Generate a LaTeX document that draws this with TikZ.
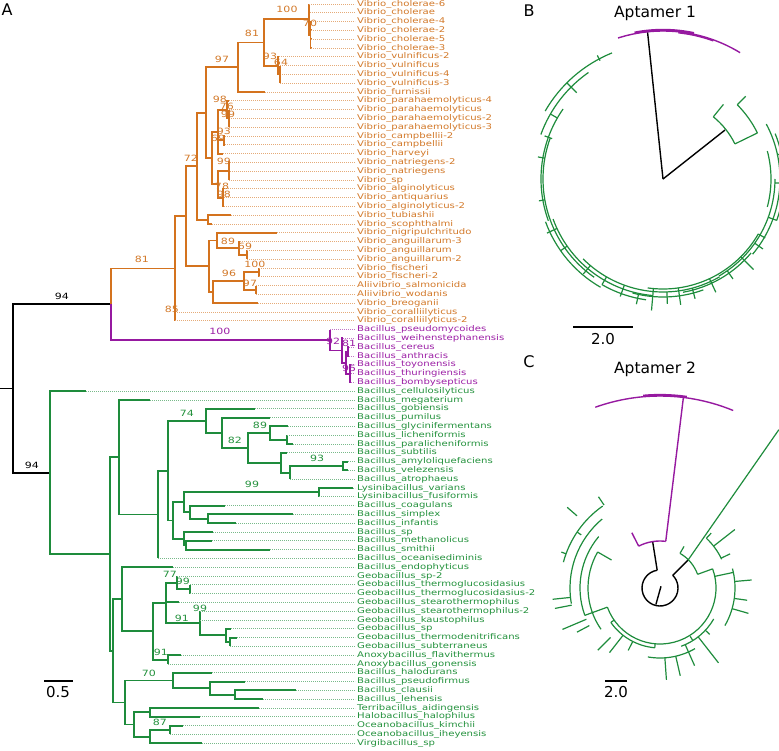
\documentclass[tikz,border=0pt]{standalone}
\usepackage{fontspec}
\setmainfont{DejaVu Sans}
\newfontfamily\leaffont[FakeStretch=1.28]{DejaVu Sans}
\usepackage{tikz}

\definecolor{vibC}{RGB}{212,115,30}
\definecolor{vibT}{RGB}{210,120,40}
\definecolor{purC}{RGB}{150,25,160}
\definecolor{purT}{RGB}{155,30,165}
\definecolor{grnC}{RGB}{30,140,60}
\definecolor{grnT}{RGB}{35,145,60}

\tikzset{
  branch/.style={line width=1.9pt},
  vibL/.style={branch, draw=vibC},
  purL/.style={branch, draw=purC},
  grnL/.style={branch, draw=grnC},
  blkL/.style={branch, draw=black},
  leader/.style={line width=0.8pt, dash pattern=on 0.8pt off 1.2pt},
  leafname/.style={anchor=west, inner sep=2pt, font=\leaffont\fontsize{7.9}{8}\selectfont,
    text height=5.7pt, text depth=1.6pt},
  boot/.style={inner sep=0pt, font=\leaffont\fontsize{8.6}{9}\selectfont},
  panel/.style={inner sep=0pt, font=\fontsize{16}{18}\selectfont},
  title/.style={inner sep=0pt, font=\fontsize{15.5}{18}\selectfont},
  barlabel/.style={inner sep=0pt, font=\fontsize{15}{17}\selectfont},
  scalebar/.style={line width=2.2pt},
  ring/.style={line width=1.2pt, draw=grnC},
  ringP/.style={line width=1.4pt, draw=purC},
  ringK/.style={line width=1.4pt, draw=black}
}

\begin{document}
\begin{tikzpicture}[x=1pt,y=-1pt]
\useasboundingbox (0,0) rectangle (779,751);

% panel letters and titles
\node[panel] (labA) at (7,10) {A};
\node[panel] (labB) at (529,11) {B};
\node[panel] (labC) at (529,362) {C};
\node[title] (tit1) at (655,13) {Aptamer 1};
\node[title] (tit2) at (655,369) {Aptamer 2};

% ---------------- panel A: rectangular tree ----------------
% root and clade nodes
\coordinate (R0) at (0,388.5);
\coordinate (R) at (13,388.5);
\coordinate (V0) at (111,304.3);
\coordinate (V1) at (175,268.5);
\coordinate (V2) at (186,216.2);
\coordinate (V3) at (209,266.4);
\coordinate (V4) at (197,166.1);
\coordinate (V5) at (206,112.6);
\coordinate (V6) at (238,67.3);
\coordinate (V7) at (264,42.5);
\coordinate (cho) at (309,19.4);
\coordinate (cho2) at (310.5,34.8);
\coordinate (vul) at (278,65.6);
\coordinate (vul2) at (280,74.4);
\coordinate (P) at (212,158);
\coordinate (P1) at (218,131.6);
\coordinate (P1a) at (227,109.6);
\coordinate (P1aa) at (229,118.4);
\coordinate (P1b) at (224,140.4);
\coordinate (P2) at (218,184.4);
\coordinate (P2a) at (229,171.2);
\coordinate (P2b) at (223,197.6);
\coordinate (tub) at (208,219.6);
\coordinate (N89) at (217,240.5);
\coordinate (ang) at (239,248.2);
\coordinate (ang2) at (247,254.8);
\coordinate (N96p) at (213,292.2);
\coordinate (N96) at (244,281.2);
\coordinate (fis) at (259,272.4);
\coordinate (ali) at (256,290);
\coordinate (B) at (330,340);
\coordinate (B2) at (342,350.5);
\coordinate (B3) at (346,362.6);
\coordinate (B4) at (348,351.6);
\coordinate (B5) at (350,373.6);
\coordinate (G0) at (50,472.6);
\coordinate (G1) at (110,554.1);
\coordinate (G2) at (119,457.3);
\coordinate (G3) at (158,514.5);
\coordinate (G4) at (168,470.6);
\coordinate (G23) at (206,420.8);
\coordinate (G25) at (222,432.8);
\coordinate (G26) at (248,447.9);
\coordinate (G27) at (270,433);
\coordinate (G28) at (281,462.7);
\coordinate (G29) at (287,439.6);
\coordinate (G30) at (290,472.6);
\coordinate (G31) at (343,466);
\coordinate (G24) at (173,520.5);
\coordinate (G32) at (319,492.4);
\coordinate (G33) at (184,502.3);
\coordinate (G34) at (190,512.2);
\coordinate (G35) at (208,518.8);
\coordinate (G36) at (184,538.6);
\coordinate (G37) at (186,545.2);
\coordinate (G6) at (113,650.9);
\coordinate (G5) at (122,599.3);
\coordinate (G8) at (153,631.3);
\coordinate (G9) at (166,603);
\coordinate (G10) at (177,582.6);
\coordinate (G12) at (190,589.2);
\coordinate (G11) at (200,623.3);
\coordinate (G13) at (226,635.4);
\coordinate (G14) at (230,642);
\coordinate (G15) at (168,659.6);
\coordinate (G7) at (125,702.5);
\coordinate (G16) at (173,680.5);
\coordinate (G18) at (210,688.2);
\coordinate (G19) at (235,694.8);
\coordinate (G17) at (134,724.5);
\coordinate (G20) at (150,712.4);
\coordinate (G21) at (150,736.6);
\coordinate (G22) at (170,730);

% backbone
\draw[blkL] (R0) -- (R);
\draw[blkL] (R) |- (V0);
\draw[blkL] (R) |- (G0);
\foreach \a/\b in {V0/V1, V1/V2, V2/V4, V2/V3, V4/V5, V4/tub, V5/V6, V5/P, V6/V7,
    V7/cho, V7/vul, cho/cho2, vul/vul2, P/P1, P/P2, P1/P1a, P1/P1b, P1a/P1aa,
    P2/P2a, P2/P2b, V3/N89, V3/N96p, N89/ang, ang/ang2, N96p/N96, N96/fis, N96/ali}
  \draw[vibL] (\a) |- (\b);
\foreach \a/\b in {V0/B, B/B2, B2/B3, B3/B4, B3/B5}
  \draw[purL] (\a) |- (\b);
\foreach \a/\b in {G0/G1, G1/G2, G1/G6, G2/G3, G3/G4, G4/G23, G4/G24, G23/G25,
    G25/G26, G26/G27, G26/G28, G27/G29, G28/G30, G30/G31, G24/G33, G24/G36,
    G33/G32, G33/G34, G34/G35, G36/G37, G6/G5, G6/G7, G5/G8, G8/G9, G8/G15,
    G9/G10, G9/G11, G10/G12, G11/G13, G13/G14, G7/G16, G7/G17, G16/G18,
    G18/G19, G17/G20, G17/G21, G21/G22}
  \draw[grnL] (\a) |- (\b);

% leaves: number/parent/tip/name
\foreach \i/\p/\t/\n in {1/cho/309/Vibrio\_cholerae-6, 2/cho/310/Vibrio\_cholerae,
    3/cho2/311/Vibrio\_cholerae-4, 4/cho2/311/Vibrio\_cholerae-2,
    5/cho2/311/Vibrio\_cholerae-5, 6/cho2/311/Vibrio\_cholerae-3,
    7/vul/279/Vibrio\_vulnificus-2, 8/vul2/280/Vibrio\_vulnificus,
    9/vul2/280/Vibrio\_vulnificus-4, 10/vul2/280/Vibrio\_vulnificus-3,
    11/V6/265/Vibrio\_furnissii, 12/P1a/229/Vibrio\_parahaemolyticus-4,
    13/P1aa/229/Vibrio\_parahaemolyticus, 14/P1aa/229/Vibrio\_parahaemolyticus-2,
    15/P1aa/229/Vibrio\_parahaemolyticus-3, 16/P1b/225/Vibrio\_campbellii-2,
    17/P1b/225/Vibrio\_campbellii, 18/P1/223/Vibrio\_harveyi,
    19/P2a/230/Vibrio\_natriegens-2, 20/P2a/230/Vibrio\_natriegens,
    21/P2a/229/Vibrio\_sp, 22/P2b/224/Vibrio\_alginolyticus,
    23/P2b/224/Vibrio\_antiquarius, 24/P2b/224/Vibrio\_alginolyticus-2,
    25/tub/231/Vibrio\_tubiashii, 26/tub/212/Vibrio\_scophthalmi,
    27/N89/277/Vibrio\_nigripulchritudo, 28/ang/240/Vibrio\_anguillarum-3,
    29/ang2/247/Vibrio\_anguillarum, 30/ang2/247/Vibrio\_anguillarum-2,
    31/fis/259/Vibrio\_fischeri, 32/fis/259/Vibrio\_fischeri-2,
    33/ali/256/Aliivibrio\_salmonicida, 34/ali/256/Aliivibrio\_wodanis,
    35/N96p/258/Vibrio\_breoganii, 36/V1/175/Vibrio\_coralliilyticus,
    37/V1/175/Vibrio\_coralliilyticus-2}{
  \coordinate (L\i) at (\t,{4+(\i-1)*8.8});
  \draw[vibL] (\p) |- (L\i);
  \node[leafname, text=vibT] (n\i) at (355,{4+(\i-1)*8.8}) {\n};
  \draw[leader, vibC!60] (L\i) -- (n\i.west);
}
\foreach \i/\p/\t/\n in {38/B/330/Bacillus\_pseudomycoides,
    39/B2/343/Bacillus\_weihenstephanensis, 40/B4/349/Bacillus\_cereus,
    41/B4/349/Bacillus\_anthracis, 42/B5/351/Bacillus\_toyonensis,
    43/B5/351/Bacillus\_thuringiensis, 44/B5/351/Bacillus\_bombysepticus}{
  \coordinate (L\i) at (\t,{4+(\i-1)*8.8});
  \draw[purL] (\p) |- (L\i);
  \node[leafname, text=purT] (n\i) at (355,{4+(\i-1)*8.8}) {\n};
  \draw[leader, purC!60] (L\i) -- (n\i.west);
}
\foreach \i/\p/\t/\n in {45/G0/86/Bacillus\_cellulosilyticus,
    46/G2/150/Bacillus\_megaterium, 47/G23/255/Bacillus\_gobiensis,
    48/G25/270/Bacillus\_pumilus, 49/G27/288/Bacillus\_glycinifermentans,
    50/G29/287/Bacillus\_licheniformis, 51/G29/293/Bacillus\_paralicheniformis,
    52/G28/287/Bacillus\_subtilis, 53/G31/348/Bacillus\_amyloliquefaciens,
    54/G31/348/Bacillus\_velezensis, 55/G30/290/Bacillus\_atrophaeus,
    56/G32/353/Lysinibacillus\_varians, 57/G32/319/Lysinibacillus\_fusiformis,
    58/G34/225/Bacillus\_coagulans, 59/G35/293/Bacillus\_simplex,
    60/G35/236/Bacillus\_infantis, 61/G36/213/Bacillus\_sp,
    62/G37/212/Bacillus\_methanolicus, 63/G37/270/Bacillus\_smithii,
    64/G3/158/Bacillus\_oceanisediminis, 65/G5/173/Bacillus\_endophyticus,
    66/G10/177/Geobacillus\_sp-2, 67/G12/190/Geobacillus\_thermoglucosidasius,
    68/G12/190/Geobacillus\_thermoglucosidasius-2,
    69/G9/179/Geobacillus\_stearothermophilus,
    70/G11/200/Geobacillus\_stearothermophilus-2,
    71/G11/200/Geobacillus\_kaustophilus, 72/G13/231/Geobacillus\_sp,
    73/G14/237/Geobacillus\_thermodenitrificans,
    74/G14/230/Geobacillus\_subterraneus, 75/G15/181/Anoxybacillus\_flavithermus,
    76/G15/168/Anoxybacillus\_gonensis, 77/G16/212/Bacillus\_halodurans,
    78/G18/245/Bacillus\_pseudofirmus, 79/G19/296/Bacillus\_clausii,
    80/G19/263/Bacillus\_lehensis, 81/G20/259/Terribacillus\_aidingensis,
    82/G20/200/Halobacillus\_halophilus, 83/G22/183/Oceanobacillus\_kimchii,
    84/G22/170/Oceanobacillus\_iheyensis, 85/G21/202/Virgibacillus\_sp}{
  \coordinate (L\i) at (\t,{4+(\i-1)*8.8});
  \draw[grnL] (\p) |- (L\i);
  \node[leafname, text=grnT] (n\i) at (355,{4+(\i-1)*8.8}) {\n};
  \draw[leader, grnC!60] (L\i) -- (n\i.west);
}

% bootstrap values
\foreach \x/\y/\s/\c [count=\k] in {62/296/94/black, 32/465/94/black,
    142/259/81/vibT, 172/309/85/vibT, 191/158/72/vibT, 222/59/97/vibT,
    252/33/81/vibT, 287/9/100/vibT, 270/56/93/vibT, 281/62/64/vibT,
    310/23/70/vibT, 220/99/98/vibT, 227/106/76/vibT, 228/114/99/vibT,
    224/131/93/vibT, 218/138/69/vibT, 224/161/99/vibT, 222/186/78/vibT,
    224/194/98/vibT, 228/241/89/vibT, 245/246/69/vibT, 255/264/100/vibT,
    229/273/96/vibT, 250/283/97/vibT,
    220/331/100/purT, 333/341/92/purT, 349/343/81/purT, 349/368/95/purT,
    187/413/74/grnT, 260/425/89/grnT, 235/440/82/grnT, 317/458/93/grnT,
    252/484/99/grnT, 170/574/77/grnT, 183/581/99/grnT, 200/608/99/grnT,
    182/618/91/grnT, 161/652/91/grnT, 149/673/70/grnT, 160/722/87/grnT}
  \node[boot, text=\c] (bs\k) at (\x,\y) {\s};

% scale bar A
\coordinate (sa1) at (44,681);
\coordinate (sa2) at (73,681);
\draw[scalebar] (sa1) -- (sa2);
\node[barlabel] (sA) at (58,692) {0.5};

% ---------------- panel B: Aptamer 1 ----------------
\begin{scope}[shift={(663,179)}, y=1pt]
  \draw[ringK] (0,0) -- (96:148);
  \draw[ringK] (0,0) -- (38.3:79);
  \draw[ringP] (58.6:148) arc[start angle=58.6, end angle=107.7, radius=148];
  \draw[ringP, line width=2.4pt] (78:149) arc[start angle=78, end angle=101, radius=149];
  \draw[ringP] (70:147) arc[start angle=70, end angle=84, radius=147];
  % green subtree
  \foreach \r/\a/\b in {80/26/51, 105/26/45, 136/112/150, 130/125/160,
      122/145/200, 120/160/235, 125/200/240, 117/200/265, 113/225/300,
      122/240/262, 118/255/290, 110/262/330, 115/280/320, 112/300/360,
      117/320/388, 121/340/382, 108/345/375}
    \draw[ring] (\a:\r) arc[start angle=\a, end angle=\b, radius=\r];
  \foreach \a/\r/\s in {26/80/105, 51/80/96, 45/105/117, 118/134/140,
      135/122/136, 150/122/130, 160/118/126, 170/120/127, 190/120/126,
      205/117/128, 215/117/125, 230/113/124, 240/113/122, 250/113/125,
      258/117/128, 265/110/132, 272/113/125, 278/110/127, 285/113/124,
      295/110/125, 305/112/122, 315/110/128, 325/112/122, 330/110/118,
      340/112/121, 358/112/118, 12/117/122}
    \draw[ring] (\a:\r) -- (\a:\s);
\end{scope}
\coordinate (sb1) at (573,327);
\coordinate (sb2) at (633,327);
\draw[scalebar] (sb1) -- (sb2);
\node[barlabel] (sB) at (603,339) {2.0};

% ---------------- panel C: Aptamer 2 ----------------
\begin{scope}[shift={(660,588)}, y=1pt]
  \draw[ringK] (99:18) arc[start angle=99, end angle=405, radius=18];
  \draw[ringK] (60:2) -- (256:17);
  \draw[ringK] (99:18) -- (99:47);
  \draw[ringK] (45:18) -- (45:40);
  \draw[ringP] (83:47) arc[start angle=83, end angle=117, radius=47];
  \draw[ringP] (117:47) -- (117:62);
  \draw[ringP] (83:47) -- (83:192);
  \draw[ringP] (67.6:192) arc[start angle=67.6, end angle=109.7, radius=192];
  \draw[ringP, line width=2.2pt] (82:193) arc[start angle=82, end angle=95, radius=193];
  \draw[ring] (45:40) -- (53.1:198);
  \foreach \r/\a/\b in {40/20/60, 56/200/380, 68/25/47, 75/-30/15, 62/-70/-30,
      70/-100/-60, 60/215/265, 72/150/215, 80/140/200, 90/130/190,
      100/125/165}
    \draw[ring] (\a:\r) arc[start angle=\a, end angle=\b, radius=\r];
  \foreach \a/\r/\s in {60/40/48, 20/40/56, 47/68/75, 38/68/95, 26/68/78,
      12/56/75, 5/75/92, -8/75/88, -16/75/92, -43/62/68, -52/62/95,
      -66/62/85, -58/57/62, -77/70/90, -86/70/92, 243/60/70, 232/60/82,
      225/70/88, 160/100/105, 191/90/107, 186/90/108, 203/80/106,
      208/80/94, 146/95/100, 139/110/123, 124/100/110, 150/56/72,
      215/56/60, 265/56/60, 200/56/80}
    \draw[ring] (\a:\r) -- (\a:\s);
\end{scope}
\coordinate (sc1) at (605,681);
\coordinate (sc2) at (627,681);
\draw[scalebar] (sc1) -- (sc2);
\node[barlabel] (sC) at (616,692) {2.0};
\end{tikzpicture}
\end{document}
